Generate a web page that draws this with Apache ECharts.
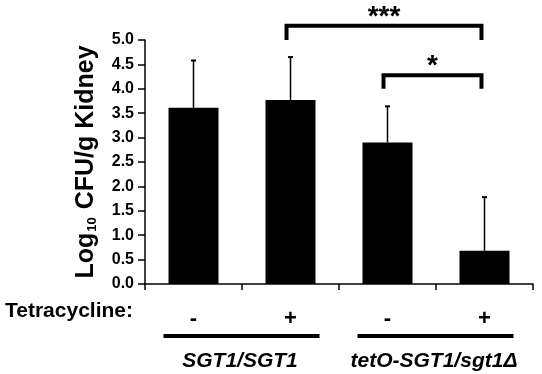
<!DOCTYPE html>
<html>
<head>
<meta charset="utf-8">
<script src="https://cdn.jsdelivr.net/npm/echarts@6/dist/echarts.min.js"></script>
<style>
  html, body { margin: 0; padding: 0; background: #fff; }
  #chart { width: 542px; height: 374px; }
</style>
</head>
<body>
<div id="chart"></div>
<script>
  // data
  var tetracycline = ['-', '+', '-', '+'];
  var cfuMean = [3.61, 3.77, 2.90, 0.68];
  var cfuErr = [0.97, 0.88, 0.74, 1.10];
  var groupNames = ['SGT1/SGT1', 'tetO-SGT1/sgt1\u0394'];
  var groupSpans = [[0, 1], [2, 3]];
  // significance brackets: [from, to, top level, bottom level]
  var brackets = [[1, 3, 5.29, 5.0], [2, 3, 4.28, 4.0]];
  var bracketLabels = ['***', '*'];

  var font = 'Liberation Sans, Arial, Helvetica, sans-serif';

  var chart = echarts.init(document.getElementById('chart'));

  var option = {
    animation: false,
    grid: { left: 145, right: 9, top: 40, bottom: 90 },
    xAxis: {
      type: 'category',
      data: tetracycline,
      axisLine: { lineStyle: { color: '#000', width: 1.5 } },
      axisTick: { show: true, length: 6, lineStyle: { color: '#000', width: 1.5 } },
      axisLabel: {
        color: '#000', fontFamily: font, fontWeight: 'bold', fontSize: 22, margin: 24
      }
    },
    yAxis: {
      type: 'value',
      min: 0, max: 5, interval: 0.5,
      name: '{b|Log}{s|10}{b| CFU/g Kidney}',
      nameLocation: 'middle',
      nameRotate: 90,
      nameGap: 46,
      nameTextStyle: {
        rich: {
          b: { fontFamily: font, fontWeight: 'bold', fontSize: 25, color: '#000' },
          s: { fontFamily: font, fontWeight: 'bold', fontSize: 13, color: '#000', padding: [11, 1, 0, 1] }
        }
      },
      axisLine: { show: true, lineStyle: { color: '#000', width: 1.5 } },
      axisTick: { show: true, length: 7, lineStyle: { color: '#000', width: 1.5 } },
      splitLine: { show: false },
      axisLabel: {
        color: '#000', fontFamily: font, fontWeight: 'bold', fontSize: 16, margin: 11,
        formatter: function (v) { return v.toFixed(1); }
      }
    },
    series: [
      {
        type: 'bar',
        data: cfuMean,
        barWidth: 50,
        itemStyle: { color: '#000' }
      },
      {
        // upper error bars
        type: 'custom',
        data: cfuMean.map(function (m, i) { return [i, m, m + cfuErr[i]]; }),
        renderItem: function (params, api) {
          var lo = api.coord([api.value(0), api.value(1)]);
          var hi = api.coord([api.value(0), api.value(2)]);
          return {
            type: 'group',
            children: [
              { type: 'line', shape: { x1: lo[0], y1: lo[1], x2: hi[0], y2: hi[1] },
                style: { stroke: '#000', lineWidth: 1.5 } },
              { type: 'line', shape: { x1: hi[0] - 2.5, y1: hi[1], x2: hi[0] + 2.5, y2: hi[1] },
                style: { stroke: '#000', lineWidth: 2 } }
            ]
          };
        },
        z: 3
      },
      {
        // significance brackets
        type: 'custom',
        clip: false,
        data: brackets,
        renderItem: function (params, api) {
          var a = api.coord([api.value(0), api.value(2)]);
          var b = api.coord([api.value(1), api.value(2)]);
          var yb = api.coord([api.value(0), api.value(3)])[1];
          var x1 = a[0] - 4, x2 = b[0] - 3;
          return {
            type: 'group',
            children: [
              { type: 'polyline', shape: { points: [[x1, yb], [x1, a[1]], [x2, a[1]], [x2, yb]] },
                style: { stroke: '#000', lineWidth: 4, fill: null } },
              { type: 'text', style: {
                  text: bracketLabels[params.dataIndex], x: (x1 + x2) / 2, y: a[1] - 23,
                  align: 'center', verticalAlign: 'top',
                  font: 'bold 28px ' + font, fill: '#000' } }
            ]
          };
        }
      },
      {
        // genotype underlines and names below the axis
        type: 'custom',
        clip: false,
        data: groupSpans,
        renderItem: function (params, api) {
          var a = api.coord([api.value(0), 0]);
          var b = api.coord([api.value(1), 0]);
          var y = a[1] + 52;
          return {
            type: 'group',
            children: [
              { type: 'line', shape: { x1: a[0] - 30, y1: y, x2: b[0] + 29, y2: y },
                style: { stroke: '#000', lineWidth: 4 } },
              { type: 'text', style: {
                  text: groupNames[params.dataIndex], x: (a[0] + b[0]) / 2 - 2, y: y + 25,
                  align: 'center', verticalAlign: 'middle',
                  font: 'italic bold 21px ' + font, fill: '#000' } }
            ]
          };
        }
      }
    ],
    graphic: [
      {
        type: 'text', left: 5, top: 301,
        style: { text: 'Tetracycline:', font: 'bold 21px ' + font, fill: '#000' }
      }
    ]
  };

  chart.setOption(option);
</script>
</body>
</html>
